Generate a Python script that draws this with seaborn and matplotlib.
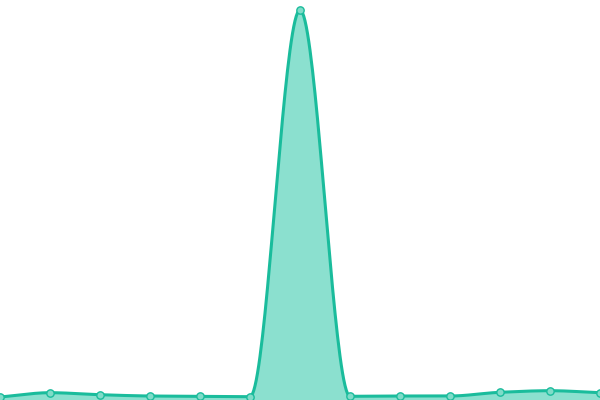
import numpy as np
import pandas as pd
import matplotlib
matplotlib.use("Agg")
import matplotlib.pyplot as plt
import seaborn as sns

# values (height above the baseline)
steps = list(range(13))
values = [3.0, 7.3, 5.3, 4.0, 3.7, 3.3, 390.0, 3.7, 4.0, 4.0, 7.7, 9.3, 7.3]

line_color = "#1abc9c"
fill_color = "#8be0cf"
dot_color = "#7fdcc8"


def monotone_curve(x, y, n=40):
    # monotone cubic (Fritsch-Carlson) so the smooth line never overshoots
    x = np.asarray(x, float)
    y = np.asarray(y, float)
    h = np.diff(x)
    d = np.diff(y) / h
    m = np.zeros_like(y)
    m[0], m[-1] = d[0], d[-1]
    for i in range(1, len(y) - 1):
        if d[i - 1] * d[i] > 0:
            w1 = 2 * h[i] + h[i - 1]
            w2 = h[i] + 2 * h[i - 1]
            m[i] = (w1 + w2) / (w1 / d[i - 1] + w2 / d[i])
    xs, ys = [], []
    for i in range(len(h)):
        t = np.linspace(0, 1, n, endpoint=False)
        h00 = 2 * t**3 - 3 * t**2 + 1
        h10 = t**3 - 2 * t**2 + t
        h01 = -2 * t**3 + 3 * t**2
        h11 = t**3 - t**2
        xs.append(x[i] + t * h[i])
        ys.append(h00 * y[i] + h10 * h[i] * m[i] + h01 * y[i + 1] + h11 * h[i] * m[i + 1])
    xs.append([x[-1]])
    ys.append([y[-1]])
    return np.concatenate(xs), np.concatenate(ys)


df = pd.DataFrame({"step": steps, "value": values})
cx, cy = monotone_curve(df["step"], df["value"])

sns.set_style("white")
fig = plt.figure(figsize=(6, 4), dpi=100)
ax = fig.add_axes([0, 0, 1, 1])

ax.fill_between(cx, cy, 0, color=fill_color, lw=0)
sns.lineplot(x=cx, y=cy, ax=ax, color=line_color, lw=2.2, estimator=None, sort=False)
sns.scatterplot(data=df, x="step", y="value", ax=ax, s=28, color=dot_color,
                edgecolor=line_color, linewidth=1, zorder=5)

ax.set_xlim(0, 12)
ax.set_ylim(0, 400)
ax.set_axis_off()

fig.savefig("out.png", dpi=100)
